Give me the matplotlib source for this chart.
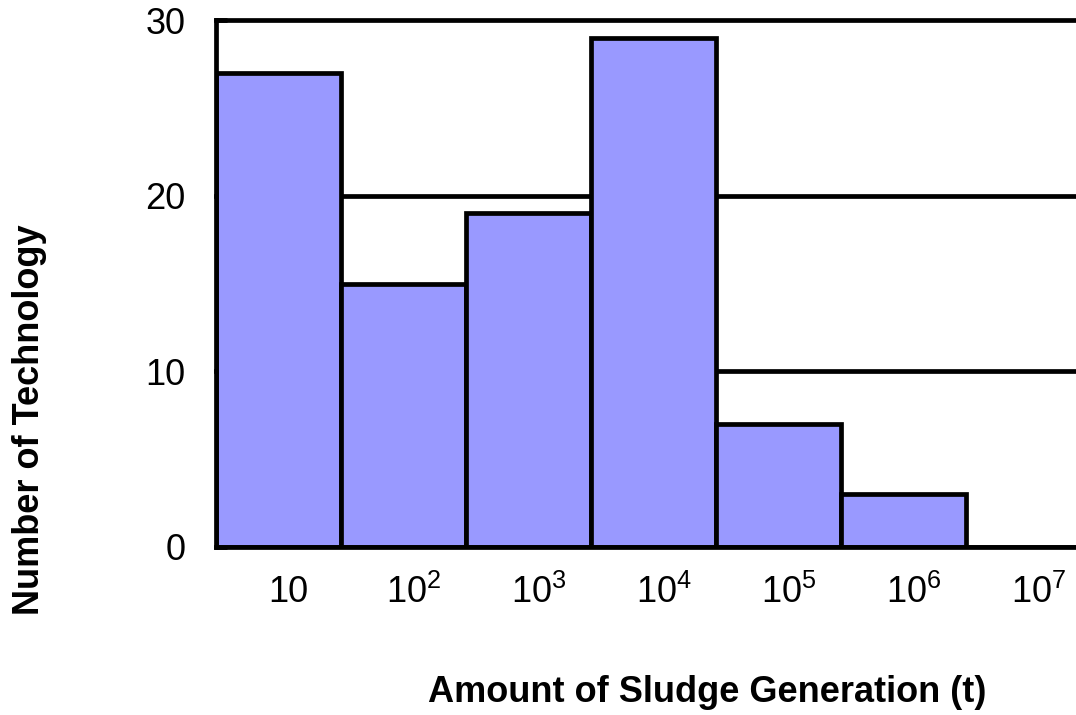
import matplotlib
matplotlib.use('Agg')
from matplotlib import pyplot
from matplotlib import transforms

pyplot.rcParams['font.family'] = ['Liberation Sans', 'DejaVu Sans']
pyplot.rcParams['mathtext.fontset'] = 'custom'
pyplot.rcParams['mathtext.rm'] = 'Liberation Sans'

categories = ['10', r'$\mathregular{10^{2}}$', r'$\mathregular{10^{3}}$', r'$\mathregular{10^{4}}$',
              r'$\mathregular{10^{5}}$', r'$\mathregular{10^{6}}$', r'$\mathregular{10^{7}}$']
counts = [27, 15, 19, 29, 7, 3, 0]
y_ticks = [0, 10, 20, 30]

fig = pyplot.figure(figsize=(10.76, 7.15), dpi=100)
ax = fig.add_axes([216/1076, 168/715, 875/1076, 527/715])

x = list(range(len(categories)))
ax.bar(x, counts, width=1.0, color='#9999FF', edgecolor='black', linewidth=3.4, zorder=2)

# gridlines behind the bars, ticks on top
for yv in y_ticks[1:]:
    ax.axhline(yv, color='black', linewidth=3.4, zorder=0, clip_on=False)

ax.set_xlim(-0.5, len(categories) - 0.5)
ax.set_ylim(0, 30)
ax.set_yticks(y_ticks)
ax.set_xticks(x)
ax.set_xticklabels(categories)

for s in ['top', 'right']:
    ax.spines[s].set_visible(False)
for s in ['left', 'bottom']:
    ax.spines[s].set_linewidth(3.4)
    ax.spines[s].set_zorder(3)
    ax.spines[s].set_capstyle('projecting')

ax.tick_params(axis='y', direction='in', length=8, width=3.4, pad=22, labelsize=26)
ax.tick_params(axis='x', length=0, pad=20, labelsize=26)

shift = transforms.ScaledTranslation(10/100, 0, fig.dpi_scale_trans)
for lab in ax.get_xticklabels():
    lab.set_transform(lab.get_transform() + shift)

fig.text(30/1076, 1 - 420/715, 'Number of Technology', rotation=90, ha='center', va='center',
         fontsize=26, fontweight='bold')
fig.text(707/1076, 1 - 693/715, 'Amount of Sludge Generation (t)', ha='center', va='center',
         fontsize=26, fontweight='bold')

fig.savefig('out.png', dpi=100)
